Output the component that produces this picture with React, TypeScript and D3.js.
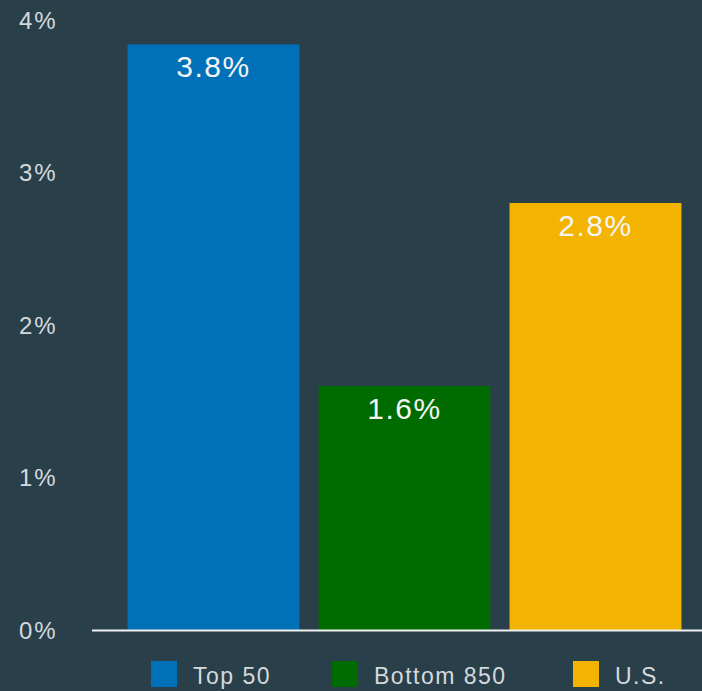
import React, { useEffect, useRef } from 'react';
import * as d3 from 'd3';

// chart data
const categories = ['Top 50', 'Bottom 850', 'U.S.'];
const values = [3.84, 1.6, 2.8];
const colors = ['#0071b9', '#006b00', '#f2b400'];
const yTicks = [0, 1, 2, 3, 4];

const W = 702;
const H = 691;

const App = () => {
  const svgRef = useRef<SVGSVGElement>(null);

  useEffect(() => {
    document.body.style.margin = '0';
    const svg = d3.select(svgRef.current);
    svg.selectAll('*').remove();

    const font = '"Liberation Sans", Arial, Helvetica, sans-serif';

    svg.append('rect').attr('width', W).attr('height', H).attr('fill', '#29404b');

    const y = d3.scaleLinear().domain([0, 4]).range([630, 20]);
    const x = d3.scaleBand<string>()
      .domain(categories)
      .range([118, 691])
      .paddingInner(0.1)
      .paddingOuter(0.05);

    // y tick labels
    svg.append('g')
      .selectAll('text')
      .data(yTicks)
      .join('text')
      .attr('x', 19)
      .attr('y', d => y(d))
      .attr('dy', '0.36em')
      .style('font-family', font)
      .style('font-size', '24px')
      .style('letter-spacing', '2px')
      .style('fill', '#d5d9dc')
      .text(d => `${d}%`);

    // bars
    svg.append('g')
      .selectAll('rect')
      .data(values)
      .join('rect')
      .attr('x', (d, i) => x(categories[i])!)
      .attr('y', d => y(d))
      .attr('width', x.bandwidth())
      .attr('height', d => y(0) - y(d))
      .attr('fill', (d, i) => colors[i]);

    // value labels
    svg.append('g')
      .selectAll('text')
      .data(values)
      .join('text')
      .attr('x', (d, i) => x(categories[i])! + x.bandwidth() / 2)
      .attr('y', d => y(d) + 33)
      .attr('text-anchor', 'middle')
      .style('font-family', font)
      .style('font-size', '30px')
      .style('letter-spacing', '1.5px')
      .style('fill', '#f4f4f4')
      .text(d => `${d.toFixed(1)}%`);

    // baseline
    svg.append('line')
      .attr('x1', 92)
      .attr('x2', W)
      .attr('y1', y(0) + 0.5)
      .attr('y2', y(0) + 0.5)
      .attr('stroke', '#f0f0f0')
      .attr('stroke-width', 2);

    // legend
    const legendX = [151, 332, 573];
    const lg = svg.append('g')
      .selectAll('g')
      .data(categories)
      .join('g')
      .attr('transform', (d, i) => `translate(${legendX[i]}, 661)`);
    lg.append('rect')
      .attr('width', 26)
      .attr('height', 26)
      .attr('fill', (d, i) => colors[i]);
    lg.append('text')
      .attr('x', 42)
      .attr('y', 23)
      .style('font-family', font)
      .style('font-size', '23px')
      .style('letter-spacing', '1.5px')
      .style('fill', '#d5d9dc')
      .text(d => d);
  }, []);

  return <svg ref={svgRef} width={W} height={H} style={{ display: 'block' }}></svg>;
};

export default App;
